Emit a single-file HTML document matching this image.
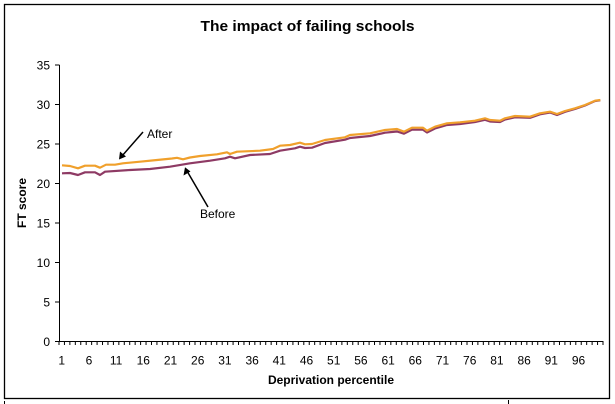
<!DOCTYPE html>
<html>
<head>
<meta charset="utf-8">
<style>
  html,body{margin:0;padding:0;background:#fff;}
  svg{display:block;}
  text{font-family:"Liberation Sans",Arial,sans-serif;fill:#000;}
</style>
</head>
<body>
<svg width="615" height="404" viewBox="0 0 615 404" xmlns="http://www.w3.org/2000/svg">
  <rect x="0" y="0" width="615" height="404" fill="#fff"/>
  <!-- frame -->
  <rect x="4.5" y="4.5" width="605" height="394" fill="none" stroke="#000" stroke-width="1.3"/>
  <line x1="4.5" y1="401" x2="4.5" y2="404" stroke="#000" stroke-width="1"/>
  <line x1="508.5" y1="400" x2="508.5" y2="404" stroke="#000" stroke-width="1"/>

  <!-- title -->
  <text x="307.5" y="31" font-size="15" font-weight="bold" text-anchor="middle" textLength="214" lengthAdjust="spacingAndGlyphs">The impact of failing schools</text>

  <!-- y axis -->
  <line x1="59.5" y1="65" x2="59.5" y2="342" stroke="#000" stroke-width="1"/>
  <g stroke="#000" stroke-width="1">
    <line x1="55" y1="65" x2="59.5" y2="65"/>
    <line x1="55" y1="104.5" x2="59.5" y2="104.5"/>
    <line x1="55" y1="144" x2="59.5" y2="144"/>
    <line x1="55" y1="183.5" x2="59.5" y2="183.5"/>
    <line x1="55" y1="223" x2="59.5" y2="223"/>
    <line x1="55" y1="262.5" x2="59.5" y2="262.5"/>
    <line x1="55" y1="302" x2="59.5" y2="302"/>
    <line x1="55" y1="341.5" x2="59.5" y2="341.5"/>
  </g>
  <g font-size="12" text-anchor="end">
    <text x="50" y="69.5">35</text>
    <text x="50" y="109">30</text>
    <text x="50" y="148.5">25</text>
    <text x="50" y="188">20</text>
    <text x="50" y="227.5">15</text>
    <text x="50" y="267">10</text>
    <text x="50" y="306.5">5</text>
    <text x="50" y="346">0</text>
  </g>
  <text transform="translate(26,203) rotate(-90)" font-size="12" font-weight="bold" text-anchor="middle">FT score</text>

  <!-- x axis -->
  <line x1="59" y1="341.5" x2="603.5" y2="341.5" stroke="#000" stroke-width="1"/>
  <g id="xticks" stroke="#000" stroke-width="1"></g>
  <g font-size="12" text-anchor="middle" id="xlabels"></g>
  <text x="331" y="384" font-size="12" font-weight="bold" text-anchor="middle">Deprivation percentile</text>

  <!-- series -->
  <polyline fill="none" stroke="#8E3A64" stroke-width="2.2" stroke-linejoin="round"
    points="62,173.3 70,173 78,175 85,172.3 95,172.3 100,175 105,171.7 130,170 150,169 170,166.7 190,163.3 210,160.7 225,158.3 230,156.7 235,158.3 250,155 270,154 280,150.7 295,148.3 300,146.7 305,148 312,147.7 325,143 345,139.7 350,138 370,136 385,132.7 397,131.5 404,133.7 412,129.7 423,129.7 427,132.5 435,128.5 447,125 460,124 475,122 485,119.8 490,121.5 500,122 505,119.5 515,117.3 530,117.8 540,114.3 550,112.5 557,115 565,111.8 575,109 585,105.5 595,101 600.3,100.3"/>
  <polyline fill="none" stroke="#F0A02C" stroke-width="2.2" stroke-linejoin="round"
    points="62,165.3 70,166 78,168.3 85,165.7 95,165.7 100,167.7 106,164.7 115,164.7 123,163.3 140,161.7 157,160 172,158.5 177,157.8 183,159.3 190,157.5 200,156 217,154.3 227,152.3 230,154 237,151.7 260,150.7 273,149 280,145.7 290,145 300,142.7 305,144.3 312,144 325,140 345,137.3 350,135 370,133.3 385,130 397,129 404,131.7 412,127.7 423,127.7 427,130.7 435,126.7 447,123.3 460,122.3 475,120.7 485,118.3 490,120 500,120.7 505,118.3 515,116 530,116.7 540,113.3 550,111.7 557,114 565,111 575,108.3 585,105 595,100.7 600.3,100"/>

  <!-- annotations -->
  <line x1="143" y1="132" x2="122" y2="156" stroke="#000" stroke-width="1.5"/>
  <polygon points="119,159.5 120,151.5 126,156.5" fill="#000"/>
  <text x="147" y="138" font-size="12">After</text>

  <line x1="208" y1="207" x2="187" y2="171" stroke="#000" stroke-width="1.5"/>
  <polygon points="185,167.3 183.5,175.5 190.5,171.5" fill="#000"/>
  <text x="200" y="218" font-size="12">Before</text>

  <script>
    (function(){
      var ns="http://www.w3.org/2000/svg";
      var t=document.getElementById("xticks");
      for(var k=0;k<=100;k++){
        var x=59+k*5.44;
        var l=document.createElementNS(ns,"line");
        l.setAttribute("x1",x.toFixed(2));l.setAttribute("x2",x.toFixed(2));
        l.setAttribute("y1","341.5");l.setAttribute("y2","345");
        t.appendChild(l);
      }
      var g=document.getElementById("xlabels");
      for(var i=1;i<=96;i+=5){
        var xx=59+(i-0.5)*5.44;
        var tx=document.createElementNS(ns,"text");
        tx.setAttribute("x",xx.toFixed(2));tx.setAttribute("y","364.5");
        tx.textContent=String(i);
        g.appendChild(tx);
      }
    })();
  </script>
</svg>
</body>
</html>
